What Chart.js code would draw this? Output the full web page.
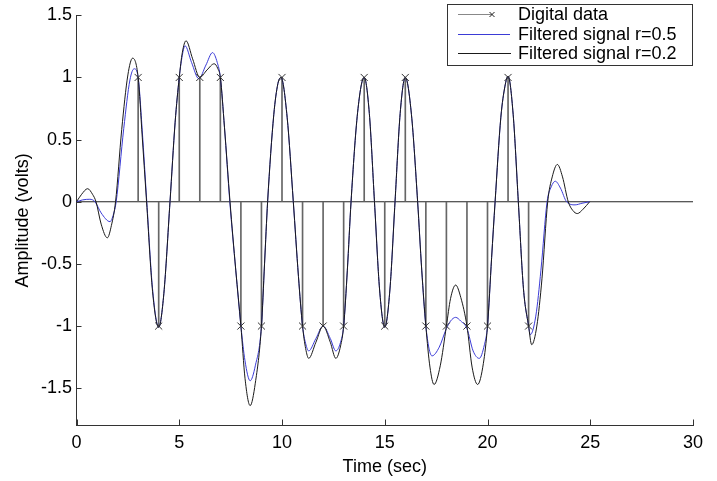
<!DOCTYPE html>
<html>
<head>
<meta charset="utf-8">
<script src="https://cdn.jsdelivr.net/npm/chart.js@4.4.1/dist/chart.umd.min.js"></script>
<style>
  html, body { margin: 0; padding: 0; background: #fff; }
  canvas { display: block; }
</style>
</head>
<body>
<canvas id="chart" width="717" height="481"></canvas>
<script>
// digital data (stems)
const bitTimes = [3, 4, 5, 6, 7, 8, 9, 10, 11, 12, 13, 14, 15, 16, 17, 18, 19, 20, 21, 22];
const bitValues = [1, -1, 1, 1, 1, -1, -1, 1, -1, -1, -1, 1, -1, 1, -1, -1, -1, -1, 1, -1];
const baseTimes = [0, 30];
const baseValues = [0, 0];

// filtered signal r=0.5 (blue)
const r05Times = [0, 0.3, 0.65, 0.9, 1.2, 1.63, 1.8, 1.93, 2.3, 2.6, 2.81, 3, 3.2, 3.42, 3.7, 4, 4.25, 4.55, 4.8, 5,
  5.13, 5.28, 5.6, 5.95, 6.3, 6.62, 6.85, 7, 7.2, 7.46, 7.75, 8, 8.2, 8.45, 8.7, 9, 9.15, 9.3, 9.6, 9.8,
  9.95, 10.25, 10.55, 10.8, 11, 11.15, 11.3, 11.65, 12, 12.35, 12.62, 12.85, 13, 13.18, 13.36, 13.68, 14, 14.25, 14.5, 14.75,
  15, 15.25, 15.5, 15.75, 16, 16.3, 16.6, 16.8, 17, 17.3, 17.65, 18, 18.2, 18.45, 18.7, 19, 19.3, 19.6, 19.85, 20,
  20.2, 20.37, 20.65, 20.85, 21, 21.25, 21.5, 21.75, 22, 22.08, 22.35, 22.6, 22.9, 23.1, 23.3, 23.55, 23.85, 24.26, 24.6, 24.97];
const r05Values = [0, 0.015, 0.02, 0, -0.09, -0.16, -0.1, 0, 0.59, 0.98, 1.07, 1, 0.57, 0, -0.7, -1.01, -0.74, 0, 0.64, 1,
  1.16, 1.255, 1.12, 0.99, 1.1, 1.2, 1.12, 1, 0.6, 0, -0.55, -1, -1.28, -1.44, -1.32, -1, -0.5, 0, 0.7, 0.95,
  1, 0.68, 0, -0.6, -1, -1.14, -1.2, -1.1, -1, -1.1, -1.2, -1.13, -1, -0.55, 0, 0.72, 1, 0.71, 0, -0.71,
  -1.01, -0.71, 0, 0.71, 1, 0.7, 0, -0.55, -1, -1.24, -1.17, -1.02, -0.96, -0.93, -0.96, -1.02, -1.2, -1.26, -1.15, -1,
  -0.45, 0, 0.68, 0.93, 1.01, 0.7, 0, -0.7, -1, -1.07, -0.92, -0.55, 0, 0.12, 0.165, 0.11, 0, -0.025, -0.012, 0];

// filtered signal r=0.2 (black)
const r02Times = [0, 0.25, 0.54, 0.78, 0.95, 1.2, 1.5, 1.7, 1.9, 2.2, 2.5, 2.73, 3, 3.2, 3.41, 3.7, 4, 4.25, 4.55, 4.8,
  5, 5.15, 5.33, 5.65, 6, 6.35, 6.7, 6.88, 7, 7.2, 7.47, 7.75, 8, 8.2, 8.45, 8.7, 9, 9.15, 9.3, 9.6,
  9.8, 9.95, 10.25, 10.55, 10.8, 11, 11.15, 11.3, 11.65, 12, 12.35, 12.62, 12.85, 13, 13.18, 13.36, 13.68, 14, 14.25, 14.5,
  14.75, 15, 15.25, 15.5, 15.75, 16, 16.3, 16.6, 16.8, 17, 17.2, 17.4, 17.7, 18, 18.2, 18.45, 18.7, 19, 19.25, 19.52,
  19.8, 20, 20.2, 20.37, 20.65, 20.85, 21, 21.25, 21.5, 21.75, 22, 22.15, 22.4, 22.65, 22.93, 23.15, 23.4, 23.65, 23.93, 24.15,
  24.37, 24.65, 24.97];
const r02Values = [0, 0.06, 0.105, 0.06, 0, -0.18, -0.29, -0.19, 0, 0.58, 1.02, 1.155, 1, 0.52, 0, -0.72, -1.01, -0.74, 0, 0.64,
  1, 1.2, 1.295, 1.15, 1, 1.06, 1.11, 1.07, 1, 0.6, 0, -0.55, -1, -1.42, -1.64, -1.46, -1, -0.5, 0, 0.7,
  0.95, 1, 0.68, 0, -0.6, -1, -1.18, -1.26, -1.13, -1, -1.13, -1.26, -1.16, -1, -0.55, 0, 0.72, 1, 0.71, 0,
  -0.71, -1.01, -0.71, 0, 0.71, 1, 0.7, 0, -0.55, -1, -1.33, -1.47, -1.32, -1, -0.78, -0.67, -0.77, -1, -1.33, -1.47,
  -1.3, -1, -0.45, 0, 0.68, 0.93, 1.01, 0.7, 0, -0.7, -1, -1.15, -1, -0.62, 0, 0.2, 0.3, 0.2, 0, -0.07,
  -0.095, -0.06, 0];

const xTicks = [0, 5, 10, 15, 20, 25, 30];
const yTicks = [-1.5, -1, -0.5, 0, 0.5, 1, 1.5];

const FONT = { family: "'Liberation Sans', Arial, Helvetica, sans-serif", size: 18 };
const pts = (xs, ys) => xs.map((x, i) => ({ x: x, y: ys[i] }));

// MATLAB style ticks pointing into the plot
const innerTicks = {
  id: 'innerTicks',
  afterDraw(chart) {
    const { ctx, chartArea: a, scales: { x, y } } = chart;
    ctx.save();
    ctx.strokeStyle = '#333';
    ctx.lineWidth = 1;
    ctx.beginPath();
    xTicks.forEach(v => {
      const px = Math.round(x.getPixelForValue(v)) + 0.5;
      ctx.moveTo(px, a.bottom);
      ctx.lineTo(px, a.bottom - 6);
    });
    yTicks.forEach(v => {
      const py = Math.round(y.getPixelForValue(v)) + 0.5;
      ctx.moveTo(a.left, py);
      ctx.lineTo(a.left + 5, py);
    });
    ctx.stroke();
    ctx.restore();
  }
};

// boxed legend in the upper right corner
const boxLegend = {
  id: 'boxLegend',
  afterDraw(chart) {
    const ctx = chart.ctx;
    ctx.save();
    ctx.fillStyle = '#fff';
    ctx.fillRect(447.5, 4.5, 245, 61);
    ctx.strokeStyle = '#333';
    ctx.lineWidth = 1;
    ctx.strokeRect(447.5, 4.5, 245, 61);

    const rows = [
      { y: 14.5, color: '#888', end: 492, text: 'Digital data', marker: true },
      { y: 34.5, color: '#3b3bd6', end: 510, text: 'Filtered signal r=0.5' },
      { y: 53.5, color: '#1a1a1a', end: 511, text: 'Filtered signal r=0.2' }
    ];
    ctx.font = FONT.size + 'px ' + FONT.family;
    ctx.textBaseline = 'middle';
    ctx.textAlign = 'left';
    rows.forEach(r => {
      ctx.strokeStyle = r.color;
      ctx.beginPath();
      ctx.moveTo(458, r.y);
      ctx.lineTo(r.end, r.y);
      ctx.stroke();
      if (r.marker) {
        ctx.strokeStyle = '#222';
        ctx.beginPath();
        ctx.moveTo(r.end - 2.5, r.y - 2.5);
        ctx.lineTo(r.end + 2.5, r.y + 2.5);
        ctx.moveTo(r.end - 2.5, r.y + 2.5);
        ctx.lineTo(r.end + 2.5, r.y - 2.5);
        ctx.stroke();
      }
      ctx.fillStyle = '#000';
      ctx.fillText(r.text, 518, r.y + 1);
    });
    ctx.restore();
  }
};

new Chart(document.getElementById('chart'), {
  type: 'line',
  data: {
    datasets: [
      {
        label: 'Digital data markers',
        data: pts(bitTimes, bitValues),
        showLine: false,
        pointStyle: 'crossRot',
        pointRadius: 5,
        borderColor: '#333',
        borderWidth: 1,
        order: 0
      },
      {
        label: 'Filtered signal r=0.2',
        data: pts(r02Times, r02Values),
        borderColor: '#1a1a1a',
        borderWidth: 1,
        pointRadius: 0,
        cubicInterpolationMode: 'monotone',
        order: 1
      },
      {
        label: 'Filtered signal r=0.5',
        data: pts(r05Times, r05Values),
        borderColor: '#3b3bd6',
        borderWidth: 1,
        pointRadius: 0,
        cubicInterpolationMode: 'monotone',
        order: 2
      },
      {
        type: 'bar',
        label: 'Digital data',
        data: pts(bitTimes, bitValues),
        backgroundColor: '#666',
        barThickness: 1,
        order: 3
      },
      {
        label: 'baseline',
        data: pts(baseTimes, baseValues),
        borderColor: '#222',
        borderWidth: 1,
        pointRadius: 0,
        order: 4
      }
    ]
  },
  options: {
    responsive: false,
    animation: false,
    layout: { padding: { top: 11, right: 24, bottom: 0, left: 0 } },
    plugins: {
      legend: { display: false },
      tooltip: { enabled: false }
    },
    scales: {
      x: {
        type: 'linear',
        min: 0,
        max: 30,
        offset: false,
        afterBuildTicks: s => { s.ticks = xTicks.map(v => ({ value: v })); },
        afterFit: s => { s.height = 55.5; },
        ticks: { font: FONT, color: '#000', padding: 7, maxRotation: 0, callback: v => String(v) },
        grid: { drawOnChartArea: false, drawTicks: false },
        border: { color: '#333' },
        title: { display: true, text: 'Time (sec)', font: FONT, color: '#000', padding: { top: 0, bottom: 3 } }
      },
      y: {
        type: 'linear',
        min: -1.8,
        max: 1.5,
        afterBuildTicks: s => { s.ticks = yTicks.map(v => ({ value: v })); },
        afterFit: s => { s.width = 76.5; },
        ticks: { font: FONT, color: '#000', padding: 4.5, callback: v => String(v) },
        grid: { drawOnChartArea: false, drawTicks: false },
        border: { color: '#333' },
        title: { display: true, text: 'Amplitude (volts)', font: FONT, color: '#000', padding: { top: 12, bottom: 0 } }
      }
    }
  },
  plugins: [innerTicks, boxLegend]
});
</script>
</body>
</html>
